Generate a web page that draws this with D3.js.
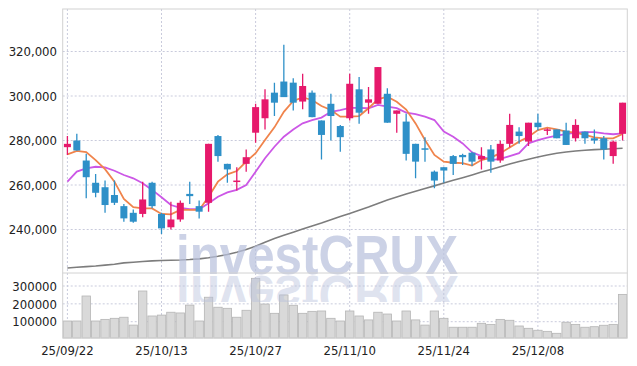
<!DOCTYPE html>
<html><head><meta charset="utf-8">
<script src="https://cdn.jsdelivr.net/npm/d3@7"></script>
<style>
body{margin:0;background:#fff}
svg{display:block}
.lbl{font-family:"DejaVu Sans Condensed","DejaVu Sans",sans-serif;font-stretch:condensed;font-size:13px;fill:#222}
</style>
</head><body>
<svg id="c" width="637" height="366"></svg>
<script>
const dates = ["25/09/22","25/09/23","25/09/24","25/09/25","25/09/26","25/09/29","25/09/30","25/10/01","25/10/02","25/10/10",
"25/10/13","25/10/14","25/10/15","25/10/16","25/10/17","25/10/20","25/10/21","25/10/22","25/10/23","25/10/24",
"25/10/27","25/10/28","25/10/29","25/10/30","25/10/31","25/11/03","25/11/04","25/11/05","25/11/06","25/11/07",
"25/11/10","25/11/11","25/11/12","25/11/13","25/11/14","25/11/17","25/11/18","25/11/19","25/11/20","25/11/21",
"25/11/24","25/11/25","25/11/26","25/11/27","25/11/28","25/12/01","25/12/02","25/12/03","25/12/04","25/12/05",
"25/12/08","25/12/09","25/12/10","25/12/11","25/12/12","25/12/15","25/12/16","25/12/17","25/12/18","25/12/19"];

const open = [277000,280000,271000,261000,259000,255500,250500,247500,247000,261000,
247000,241000,244500,256000,250500,252000,282000,269500,261500,269500,
283500,290000,301500,306500,306000,297500,301500,289000,296500,286500,
290000,303000,297000,296500,301000,292000,288500,278500,276500,266000,
268000,273000,273500,274500,271500,276000,271000,278500,284000,279500,
288000,284500,285000,284500,281000,284000,281000,281000,273000,283000];
const high = [282000,283000,274000,265000,262000,262000,251500,249000,261500,261500,
247500,252500,253000,261500,253000,278500,282500,269500,268000,276000,
296500,303000,306000,323000,308000,310000,302500,289000,301000,287000,
310000,308500,304000,313000,303500,293500,292000,278500,281500,266500,
268000,273500,274000,275000,277000,278000,280000,292000,286000,288000,
292000,285500,285000,288000,289500,284000,285000,282000,280000,297000];
const low = [273500,275500,254000,254500,247500,251000,243500,243000,245500,249500,
238000,240000,243500,251500,245000,248000,270500,261000,257500,266000,
279000,285000,291000,299500,293500,294000,290500,271500,280000,275000,
289000,287500,292000,296500,288000,283500,271000,263000,270500,258500,
261000,264500,269000,268500,267000,265500,270000,277000,278500,277500,
284500,282500,281000,278000,279500,278500,278500,271500,269500,280000];
const close = [278500,275500,263500,256500,251000,252000,245000,243500,253500,250500,
240500,244500,252000,255000,248000,278500,273000,267000,262000,272500,
295000,298500,297000,299500,297000,304500,290500,282500,291000,281500,
305500,292500,298500,313000,288000,293500,274000,270500,276000,262000,
266500,269500,272500,270500,273000,270500,278500,287000,282000,288000,
286000,285000,281000,278000,287000,281000,280000,276000,279500,297000];
const volume = [104000,104000,244000,104000,113000,119000,125000,81000,272000,132000,
137000,153000,149000,193000,104000,237000,181000,175000,125000,164000,
343000,199000,147000,250000,192000,147000,158000,160000,119000,104000,
160000,132000,110000,153000,143000,104000,160000,110000,81000,160000,
119000,69000,69000,69000,91000,85000,113000,108000,76000,63000,
52000,46000,35000,97000,85000,69000,72000,80000,85000,253000];
const ma5 = [273800,275300,274800,271200,267100,261500,253700,250000,249500,249500,
247000,246800,248800,248800,248800,254700,261500,264800,266300,270500,
274300,280200,285900,292900,297800,299400,298200,295500,293700,290700,
290700,291000,294500,298500,299700,297400,293900,287700,280200,273500,
270500,270000,269800,268700,271200,272300,274300,276900,279500,281700,
284700,285800,285000,284000,283500,282500,281400,281000,281000,282900];
const ma20 = [261500,266000,267500,268200,267900,266400,264500,263000,260800,257800,
254500,251000,249700,249100,249100,251800,254700,256700,257800,260000,
266000,272000,277200,281700,284900,287700,289200,290300,292900,293700,
294700,294700,294500,296000,295200,294500,292500,291900,290700,289200,
284000,281700,278700,274700,273000,271200,271700,273000,274300,278700,
280200,281300,282200,282900,283500,283800,283800,283200,282800,283200];
const maLong = [222700,223000,223300,223600,224000,224400,225000,225300,225600,225900,
226100,226200,226300,226500,226800,227300,228000,228800,229800,231000,
232500,234300,235900,237400,238800,240200,241600,242900,244400,245800,
247200,248700,250100,251700,253300,254600,256000,257200,258400,259600,
260900,262100,263300,264500,265800,267000,268200,269400,270600,271600,
272600,273500,274300,274800,275300,275600,275900,276100,276300,276500];

const priceTicks = [240000,260000,280000,300000,320000];
const volTicks = [100000,200000,300000];
const dateTicks = ["25/09/22","25/10/13","25/10/27","25/11/10","25/11/24","25/12/08"];

const L = 62.7, R = 627.3, T = 9, PB = 273, VB = 338;
const upC = "#e6196b", downC = "#2e90c8";
const svg = d3.select("#c");

const x = d3.scaleBand().domain(dates).range([L, R]).padding(0);
const cx = d => x(d) + x.bandwidth()/2;
const y = d3.scaleLinear().domain([240000, 320000]).range([229.5, 51.5]);
const yv = d3.scaleLinear().domain([100000, 300000]).range([321.7, 286]);

const defs = svg.append("defs");
defs.append("clipPath").attr("id","pclip").append("rect").attr("x",L).attr("y",T).attr("width",R-L).attr("height",PB-T);
defs.append("clipPath").attr("id","rclip").append("rect").attr("x",L).attr("y",PB+1).attr("width",R-L).attr("height",28);

// grid
const grid = svg.append("g").attr("stroke","#c9cbdc").attr("stroke-dasharray","2,2").attr("stroke-width",1);
grid.selectAll(".hp").data(priceTicks).join("line")
  .attr("x1",L).attr("x2",R).attr("y1",d=>y(d)).attr("y2",d=>y(d));
grid.selectAll(".hv").data(volTicks).join("line")
  .attr("x1",L).attr("x2",R).attr("y1",d=>yv(d)).attr("y2",d=>yv(d));
grid.selectAll(".vx").data(dateTicks).join("line")
  .attr("x1",d=>cx(d)).attr("x2",d=>cx(d)).attr("y1",T).attr("y2",VB);

// volume bars
svg.append("g").selectAll("rect").data(dates).join("rect")
  .attr("x",d=>x(d)+0.5).attr("width",x.bandwidth()-1)
  .attr("y",(d,i)=>yv(volume[i])).attr("height",(d,i)=>VB-yv(volume[i]))
  .attr("fill","#d9d9d9").attr("stroke","#b5b5b5").attr("stroke-width",0.8);

// MA lines
const pg = svg.append("g").attr("clip-path","url(#pclip)");
const line = arr => d3.line().x((d,i)=>cx(dates[i])).y(d=>y(d))(arr);
pg.append("path").attr("d",line(maLong)).attr("fill","none").attr("stroke","#7d7d7d").attr("stroke-width",1.6);
pg.append("path").attr("d",line(ma20)).attr("fill","none").attr("stroke","#cc57e6").attr("stroke-width",1.8);
pg.append("path").attr("d",line(ma5)).attr("fill","none").attr("stroke","#f0844c").attr("stroke-width",1.8);

// candles
const cg = pg.append("g");
const col = i => close[i] >= open[i] ? upC : downC;
cg.selectAll("line").data(dates).join("line")
  .attr("x1",d=>cx(d)).attr("x2",d=>cx(d))
  .attr("y1",(d,i)=>y(high[i])).attr("y2",(d,i)=>y(low[i]))
  .attr("stroke",(d,i)=>col(i)).attr("stroke-width",1.3);
const bw = 7;
cg.selectAll("rect").data(dates).join("rect")
  .attr("x",d=>cx(d)-bw/2).attr("width",bw)
  .attr("y",(d,i)=>y(Math.max(open[i],close[i])))
  .attr("height",(d,i)=>Math.max(1.5, Math.abs(y(open[i])-y(close[i]))))
  .attr("fill",(d,i)=>col(i));

// watermark (drawn over the chart, semi-transparent) with its reflection
const wmAttrs = t => t.attr("font-family","'Liberation Sans',Arial,sans-serif").attr("font-weight","bold")
  .attr("font-size","56px").attr("fill","#b9c1dc").attr("textLength",282).attr("lengthAdjust","spacingAndGlyphs");
svg.append("text").attr("x",176).attr("y",274).attr("fill-opacity",0.72).call(wmAttrs).text("investCRUX");
svg.append("g").attr("clip-path","url(#rclip)").attr("opacity",0.45).append("text")
  .attr("x",176).attr("y",274).attr("transform","translate(0,550) scale(1,-1)").call(wmAttrs).text("investCRUX");

// frame
const fr = svg.append("g").attr("stroke","#d2d2d2").attr("fill","none").attr("stroke-width",1);
fr.append("rect").attr("x",L).attr("y",T).attr("width",R-L).attr("height",VB-T);
fr.append("line").attr("x1",L).attr("x2",R).attr("y1",PB).attr("y2",PB);

// labels
const fmt = d3.format(",");
svg.append("g").selectAll("text").data(priceTicks).join("text").attr("class","lbl")
  .attr("x",57).attr("y",d=>y(d)).attr("dy","0.36em").attr("text-anchor","end").text(d=>fmt(d));
svg.append("g").selectAll("text").data(volTicks).join("text").attr("class","lbl")
  .attr("x",57).attr("y",d=>yv(d)).attr("dy","0.36em").attr("text-anchor","end").text(d=>d);
svg.append("g").selectAll("text").data(dateTicks).join("text").attr("class","lbl")
  .attr("x",d=>cx(d)).attr("y",350).attr("dy","0.36em").attr("text-anchor","middle").text(d=>d);
</script>
</body></html>
